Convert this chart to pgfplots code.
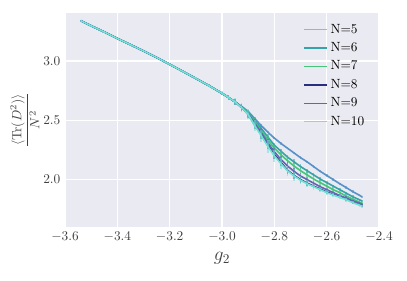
\documentclass[border=0pt]{standalone}
\usepackage{pgfplots}
\usepackage{pgfplotstable}
\pgfplotsset{compat=1.18}
\definecolor{bgc}{HTML}{EAEAF2}
\definecolor{tickc}{HTML}{404040}
\definecolor{cA}{HTML}{5792C9}
\definecolor{cB}{HTML}{35A3A8}
\definecolor{cC}{HTML}{45C47A}
\definecolor{cD}{HTML}{2B2D7E}
\definecolor{cE}{HTML}{6166B3}
\definecolor{cF}{HTML}{6FE3D6}

\pgfplotstableread{
x y e
-3.54 3.340 0.006
-3.50 3.297 0.006
-3.45 3.245 0.006
-3.40 3.190 0.006
-3.35 3.138 0.006
-3.30 3.085 0.006
-3.25 3.030 0.006
-3.20 2.972 0.006
-3.15 2.913 0.006
-3.10 2.853 0.006
-3.05 2.792 0.007
-3.00 2.728 0.008
-2.975 2.692 0.008
-2.95 2.655 0.008
-2.925 2.618 0.009
-2.90 2.575 0.009
-2.875 2.515 0.010
-2.85 2.455 0.010
-2.825 2.400 0.010
-2.80 2.350 0.010
-2.775 2.305 0.010
-2.75 2.265 0.010
-2.725 2.225 0.010
-2.70 2.185 0.010
-2.675 2.150 0.010
-2.65 2.110 0.010
-2.625 2.070 0.010
-2.60 2.035 0.010
-2.575 2.000 0.010
-2.55 1.965 0.010
-2.525 1.932 0.010
-2.50 1.898 0.010
-2.475 1.868 0.010
-2.465 1.855 0.010
}\tA

\pgfplotstableread{
x y e
-3.54 3.340 0.006
-3.50 3.297 0.006
-3.45 3.245 0.006
-3.40 3.190 0.006
-3.35 3.138 0.006
-3.30 3.085 0.006
-3.25 3.030 0.006
-3.20 2.972 0.006
-3.15 2.913 0.006
-3.10 2.853 0.006
-3.05 2.792 0.008
-3.00 2.728 0.010
-2.975 2.692 0.012
-2.95 2.655 0.014
-2.925 2.612 0.016
-2.90 2.565 0.018
-2.875 2.500 0.020
-2.85 2.430 0.022
-2.825 2.360 0.022
-2.80 2.290 0.022
-2.775 2.240 0.022
-2.75 2.190 0.020
-2.725 2.150 0.020
-2.70 2.110 0.018
-2.675 2.075 0.016
-2.65 2.040 0.015
-2.625 2.005 0.014
-2.60 1.975 0.013
-2.575 1.945 0.012
-2.55 1.915 0.012
-2.525 1.885 0.011
-2.50 1.855 0.011
-2.475 1.830 0.010
-2.465 1.820 0.010
}\tB

\pgfplotstableread{
x y e
-3.54 3.340 0.006
-3.50 3.297 0.006
-3.45 3.245 0.006
-3.40 3.190 0.006
-3.35 3.138 0.006
-3.30 3.085 0.006
-3.25 3.030 0.006
-3.20 2.972 0.006
-3.15 2.913 0.006
-3.10 2.853 0.006
-3.05 2.792 0.009
-3.00 2.728 0.012
-2.975 2.692 0.015
-2.95 2.655 0.018
-2.925 2.610 0.020
-2.90 2.560 0.024
-2.875 2.490 0.026
-2.85 2.410 0.028
-2.825 2.335 0.030
-2.80 2.265 0.030
-2.775 2.210 0.030
-2.75 2.160 0.028
-2.725 2.115 0.026
-2.70 2.075 0.024
-2.675 2.040 0.022
-2.65 2.005 0.020
-2.625 1.975 0.018
-2.60 1.945 0.016
-2.575 1.915 0.015
-2.55 1.890 0.014
-2.525 1.860 0.013
-2.50 1.835 0.012
-2.475 1.810 0.011
-2.465 1.800 0.011
}\tC

\pgfplotstableread{
x y e
-3.54 3.340 0.006
-3.50 3.297 0.006
-3.45 3.245 0.006
-3.40 3.190 0.006
-3.35 3.138 0.006
-3.30 3.085 0.006
-3.25 3.030 0.006
-3.20 2.972 0.006
-3.15 2.913 0.006
-3.10 2.853 0.006
-3.05 2.792 0.010
-3.00 2.728 0.014
-2.975 2.692 0.018
-2.95 2.655 0.022
-2.925 2.608 0.026
-2.90 2.550 0.030
-2.875 2.460 0.034
-2.85 2.380 0.036
-2.825 2.290 0.036
-2.80 2.210 0.034
-2.775 2.145 0.032
-2.75 2.080 0.030
-2.725 2.035 0.028
-2.70 2.000 0.025
-2.675 1.970 0.022
-2.65 1.945 0.020
-2.625 1.920 0.018
-2.60 1.895 0.016
-2.575 1.875 0.015
-2.55 1.855 0.014
-2.525 1.835 0.013
-2.50 1.810 0.012
-2.475 1.790 0.011
-2.465 1.780 0.011
}\tD

\pgfplotstableread{
x y e
-3.54 3.340 0.006
-3.50 3.297 0.006
-3.45 3.245 0.006
-3.40 3.190 0.006
-3.35 3.138 0.006
-3.30 3.085 0.006
-3.25 3.030 0.006
-3.20 2.972 0.006
-3.15 2.913 0.006
-3.10 2.853 0.006
-3.05 2.792 0.010
-3.00 2.728 0.014
-2.975 2.692 0.018
-2.95 2.655 0.022
-2.925 2.609 0.026
-2.90 2.555 0.030
-2.875 2.475 0.034
-2.85 2.395 0.036
-2.825 2.310 0.036
-2.80 2.235 0.034
-2.775 2.170 0.032
-2.75 2.115 0.030
-2.725 2.070 0.028
-2.70 2.030 0.025
-2.675 2.000 0.022
-2.65 1.970 0.020
-2.625 1.940 0.018
-2.60 1.915 0.016
-2.575 1.890 0.015
-2.55 1.865 0.014
-2.525 1.845 0.013
-2.50 1.820 0.012
-2.475 1.800 0.011
-2.465 1.790 0.011
}\tE

\pgfplotstableread{
x y e
-3.54 3.340 0.006
-3.50 3.297 0.006
-3.45 3.245 0.006
-3.40 3.190 0.006
-3.35 3.138 0.006
-3.30 3.085 0.006
-3.25 3.030 0.006
-3.20 2.972 0.006
-3.15 2.913 0.006
-3.10 2.853 0.008
-3.05 2.792 0.012
-3.00 2.728 0.018
-2.975 2.692 0.024
-2.95 2.655 0.030
-2.925 2.607 0.036
-2.90 2.550 0.042
-2.875 2.455 0.048
-2.85 2.370 0.052
-2.825 2.280 0.052
-2.80 2.200 0.050
-2.775 2.135 0.046
-2.75 2.075 0.042
-2.725 2.030 0.038
-2.70 1.995 0.034
-2.675 1.965 0.030
-2.65 1.940 0.026
-2.625 1.915 0.022
-2.60 1.890 0.020
-2.575 1.870 0.018
-2.55 1.850 0.016
-2.525 1.830 0.015
-2.50 1.805 0.014
-2.475 1.785 0.013
-2.465 1.775 0.013
}\tF

\begin{document}
\begin{tikzpicture}
\begin{axis}[
  scale only axis,
  width=235.5pt, height=160.5pt,
  xmin=-3.6, xmax=-2.4, ymin=1.6, ymax=3.405,
  xtick={-3.6,-3.4,-3.2,-3.0,-2.8,-2.6,-2.4},
  ytick={2.0,2.5,3.0},
  xticklabel style={/pgf/number format/fixed,/pgf/number format/fixed zerofill,/pgf/number format/precision=1, text=tickc},
  yticklabel style={/pgf/number format/fixed,/pgf/number format/fixed zerofill,/pgf/number format/precision=1, text=tickc},
  axis background/.style={fill=bgc},
  axis line style={draw=none},
  major tick length=0pt,
  grid=major,
  major grid style={white, line width=0.8pt},
  xlabel={\Large $g_2$},
  ylabel={$\displaystyle\frac{\langle \mathrm{Tr}(D^2)\rangle}{N^2}$},
  xlabel style={text=tickc, yshift=-1pt},
  ylabel style={text=tickc, yshift=-4pt},
  legend style={draw=none, fill=none, at={(0.975,0.975)}, anchor=north east, row sep=1.5pt, font=\normalsize},
  legend cell align=left,
  every axis plot/.append style={no marks, line width=1.2pt},
  error bars/y dir=both, error bars/y explicit, error bars/error mark=none,
]
\addlegendimage{cA, line width=1.1pt, opacity=0.6}
\addlegendentry{N=5}
\addlegendimage{cB, line width=1.1pt}
\addlegendentry{N=6}
\addlegendimage{cC, line width=1.1pt}
\addlegendentry{N=7}
\addlegendimage{cD, line width=1.1pt}
\addlegendentry{N=8}
\addlegendimage{cE, line width=1.1pt}
\addlegendentry{N=9}
\addlegendimage{cF, line width=1.1pt}
\addlegendentry{N=10}
\addplot+[cA, forget plot, error bars/error bar style={cA, line width=1.3pt, opacity=0.55}] table[x=x,y=y,y error=e]{\tA};
\addplot+[cB, forget plot, error bars/error bar style={cB, line width=1.3pt, opacity=0.55}] table[x=x,y=y,y error=e]{\tB};
\addplot+[cC, forget plot, error bars/error bar style={cC, line width=1.3pt, opacity=0.55}] table[x=x,y=y,y error=e]{\tC};
\addplot+[cD, forget plot, error bars/error bar style={cD, line width=1.3pt, opacity=0.55}] table[x=x,y=y,y error=e]{\tD};
\addplot+[cE, forget plot, error bars/error bar style={cE, line width=1.3pt, opacity=0.55}] table[x=x,y=y,y error=e]{\tE};
\addplot+[cF, forget plot, error bars/error bar style={cF, line width=1.3pt, opacity=0.55}] table[x=x,y=y,y error=e]{\tF};
\end{axis}
\pgfresetboundingbox
\path[use as bounding box] ([xshift=-48.75pt,yshift=-39.75pt]current axis.south west) rectangle ([xshift=21pt,yshift=9.75pt]current axis.north east);
\end{tikzpicture}
\end{document}
